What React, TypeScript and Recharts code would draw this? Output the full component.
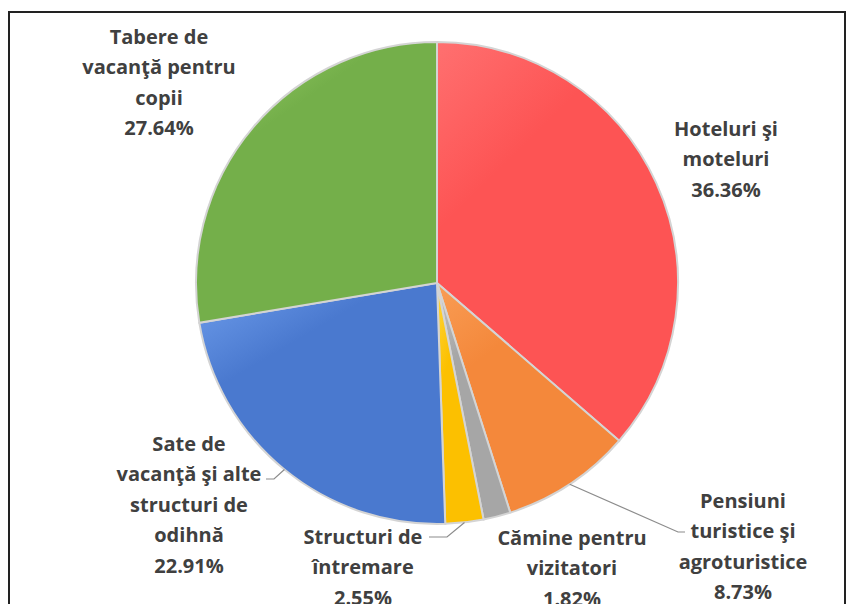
import { PieChart, Pie, Cell } from 'recharts';

const categories = [
  'Hoteluri şi\nmoteluri',
  'Pensiuni\nturistice şi\nagroturistice',
  'Cămine pentru\nvizitatori',
  'Structuri de\nîntremare',
  'Sate de\nvacanţă şi alte\nstructuri de\nodihnă',
  'Tabere de\nvacanţă pentru\ncopii',
];
const shares = [36.36, 8.73, 1.82, 2.55, 22.91, 27.64];
const colorsLight = ['#ff7070', '#f99d55', '#c2c2c2', '#ffd640', '#6f9eec', '#9fd56e'];
const colorsBase = ['#fd5454', '#f4883b', '#a6a6a6', '#fcc000', '#4a79cf', '#74af4a'];

// label layout: offset of the first text line from the pie centre, optional leader elbow
const labelPlace = [
  { dx: 289, dy: -155 },
  { dx: 306, dy: 217, elbow: [241, 249], tick: 7 },
  { dx: 135, dy: 254 },
  { dx: -74, dy: 253, elbow: [10, 254], tick: -18 },
  { dx: -248, dy: 160, elbow: [-163, 196], tick: -8 },
  { dx: -278, dy: -247 },
];

const data = categories.map((name, i) => ({ name, value: shares[i] }));

const LINE_H = 30.5;
const RADIAN = Math.PI / 180;

const renderLabel = (props: any) => {
  const { cx, cy, midAngle, outerRadius, index, value } = props;
  const p = labelPlace[index];
  const lines = [...categories[index].split('\n'), `${value.toFixed(2)}%`];
  const ex = cx + outerRadius * Math.cos(-midAngle * RADIAN);
  const ey = cy + outerRadius * Math.sin(-midAngle * RADIAN);
  return (
    <g key={`lbl-${index}`}>
      {p.elbow && (
        <polyline
          points={`${ex},${ey} ${cx + p.elbow[0]},${cy + p.elbow[1]} ${cx + p.elbow[0] + p.tick!},${cy + p.elbow[1]}`}
          fill="none"
          stroke="#8c8c8c"
          strokeWidth={1.2}
        />
      )}
      {lines.map((t, k) => (
        <text
          key={k}
          x={cx + p.dx}
          y={cy + p.dy + k * LINE_H}
          textAnchor="middle"
          dominantBaseline="central"
          fill="#404040"
          fontSize={20}
          fontWeight="bold"
          fontFamily="'Open Sans', sans-serif"
        >
          {t}
        </text>
      ))}
    </g>
  );
};

export default function App() {
  return (
    <div>
      <style>{'body{margin:0;overflow:hidden;background:#fff}'}</style>
      <svg width={0} height={0} style={{ position: 'absolute' }}>
        <defs>
          {colorsBase.map((c, i) => (
            <linearGradient key={i} id={`grad-${i}`} x1="0" y1="0" x2="0.6" y2="1">
              <stop offset="0%" stopColor={colorsLight[i]} />
              <stop offset="35%" stopColor={c} />
              <stop offset="100%" stopColor={c} />
            </linearGradient>
          ))}
        </defs>
      </svg>
      <div
        style={{
          position: 'absolute',
          left: 8,
          top: 11,
          width: 838,
          height: 620,
          border: '2px solid #222',
          boxSizing: 'border-box',
          background: '#fff',
        }}
      >
        <PieChart width={834} height={600}>
          <Pie
            data={data}
            dataKey="value"
            nameKey="name"
            cx={422}
            cy={265}
            outerRadius={241}
            startAngle={90}
            endAngle={-270}
            stroke="#d4d4d4"
            strokeWidth={2}
            labelLine={false}
            label={renderLabel}
            isAnimationActive={false}
          >
            {data.map((_, i) => (
              <Cell key={`cell-${i}`} fill={`url(#grad-${i})`} />
            ))}
          </Pie>
        </PieChart>
      </div>
    </div>
  );
}
